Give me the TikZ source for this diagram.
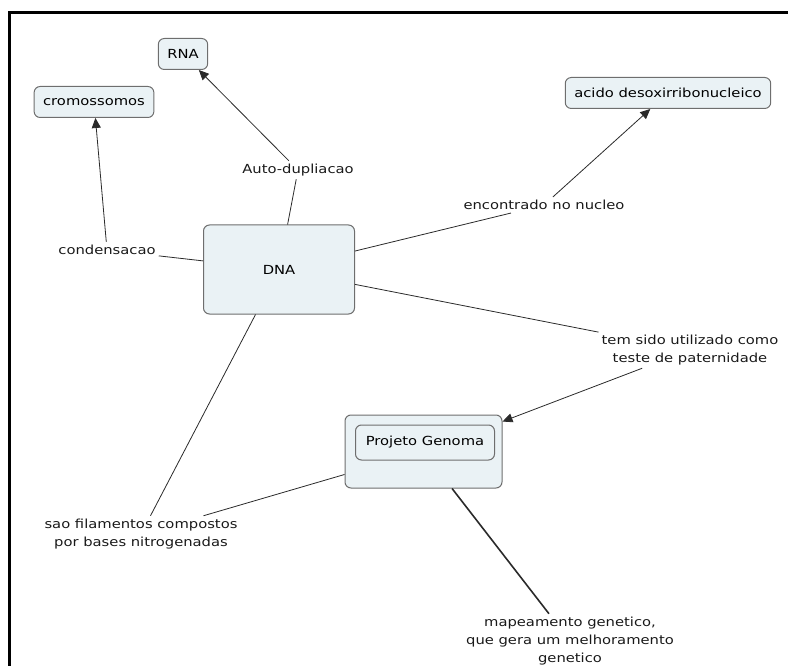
\documentclass[tikz,border=0pt]{standalone}
\usepackage{fontspec}
\setmainfont{DejaVu Sans}[FakeStretch=1.18]
\usepackage{xcolor}
\usepackage{tikz}
\usetikzlibrary{arrows.meta,positioning}
\definecolor{cmfill}{HTML}{EAF2F5}
\definecolor{cmedge}{HTML}{6E6E6E}
\definecolor{cmline}{HTML}{2A2A2A}
\tikzset{
  cmfont/.style={font=\fontsize{12.5}{18}\selectfont},
  concept/.style={cmfont,draw=cmedge,fill=cmfill,line width=1pt,rounded corners=6pt,
    inner xsep=9pt,minimum height=31pt},
  linkword/.style={cmfont,align=center,inner sep=3pt,text=black!90},
  link/.style={draw=cmline,line width=0.8pt},
  linkarrow/.style={link,-{Triangle[length=10pt,width=9pt]}},
}
\begin{document}
\begin{tikzpicture}[x=1pt,y=-1pt]
  \useasboundingbox (0,0) rectangle (788,666);
  \draw[line width=3pt] (9,666) |- (788,13);
  % concepts
  \node[concept] (nRNA) at (183,54) {RNA};
  \node[concept] (nCrom) at (94,102) {cromossomos};
  \node[concept] (nAcido) at (668,93) {acido desoxirribonucleico};
  \node[concept,minimum width=151pt,minimum height=89pt] (nDNA) at (279,269.5) {DNA};
  \node[concept,minimum width=157pt,minimum height=73pt] (nProjBox) at (423.5,451.5) {};
  \node[concept,minimum width=139pt,minimum height=35pt] (nProj) at (425,442.5) {Projeto Genoma};
  % linking phrases
  \node[linkword] (lAuto) at (298,170) {Auto-dupliacao};
  \node[linkword] (lCond) at (107,250) {condensacao};
  \node[linkword] (lEnc) at (544,205) {encontrado no nucleo};
  \node[linkword] (lTem) at (690,350) {tem sido utilizado como\\teste de paternidade};
  \node[linkword] (lSao) at (141,534) {sao filamentos compostos\\por bases nitrogenadas};
  \node[linkword] (lMap) at (570,641) {mapeamento genetico,\\que gera um melhoramento\\genetico};
  % connectors
  \draw[link] (nDNA) -- (lAuto);
  \draw[linkarrow] (lAuto) -- (nRNA);
  \draw[link] (nDNA) -- (lCond);
  \draw[linkarrow] (lCond) -- (nCrom);
  \draw[link] (nDNA) -- (lEnc);
  \draw[linkarrow] (lEnc) -- (nAcido);
  \draw[link] (nDNA) -- (lTem);
  \draw[linkarrow] (lTem) -- (nProjBox);
  \draw[link] (nDNA) -- (lSao);
  \draw[link] (nProjBox) -- (lSao);
  \draw[link,line width=1.6pt] (nProjBox) -- (lMap);
\end{tikzpicture}
\end{document}
